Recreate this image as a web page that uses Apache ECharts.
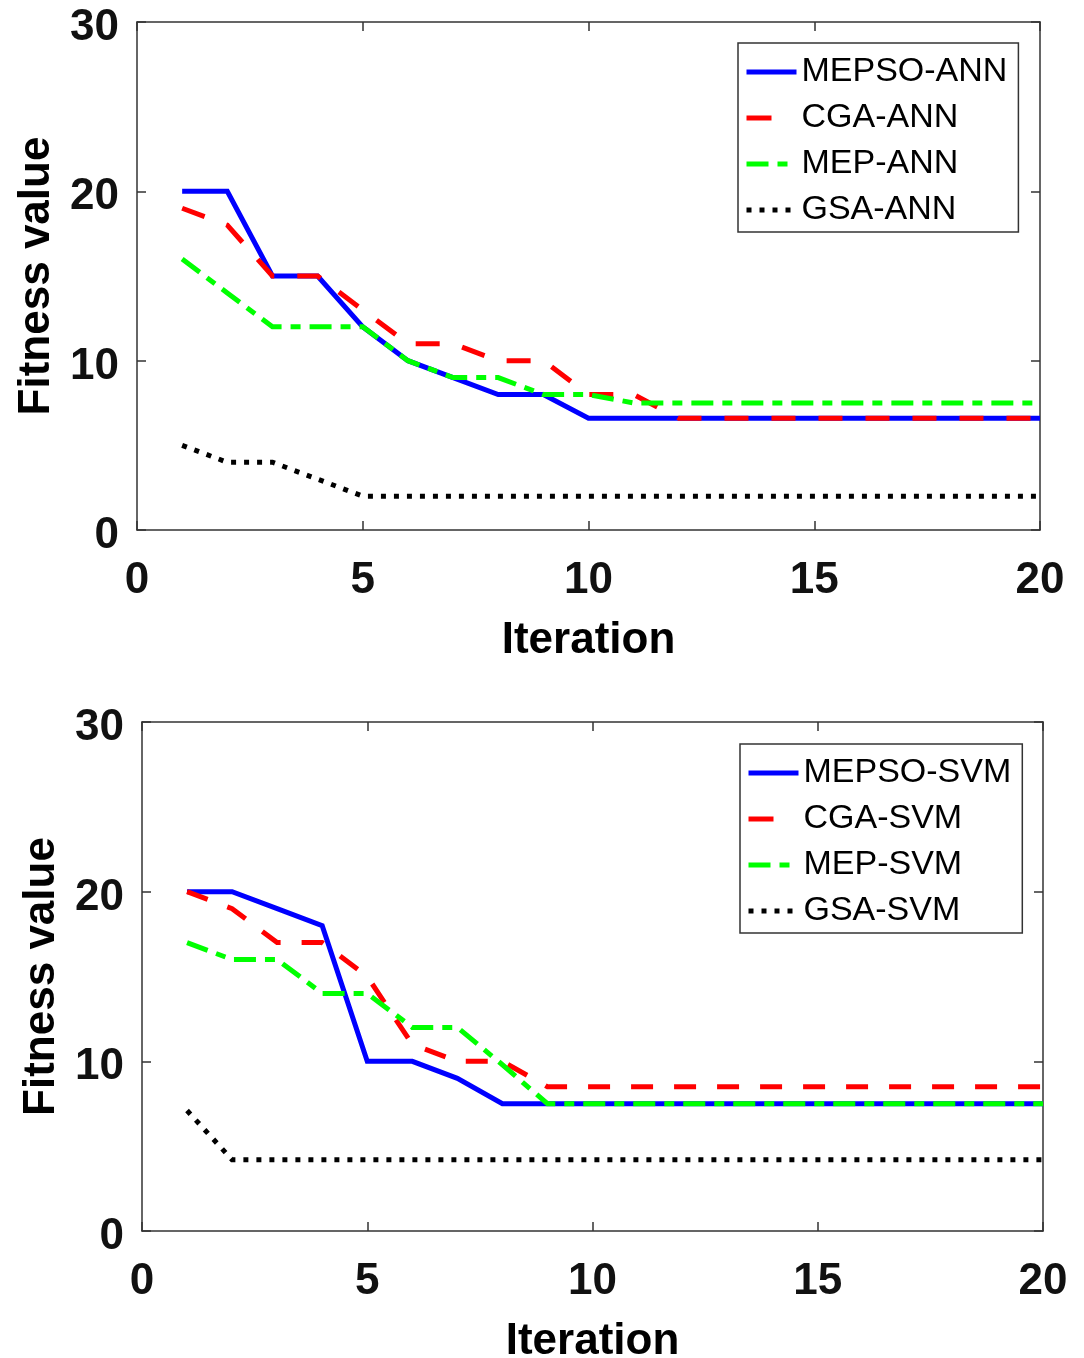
<!DOCTYPE html>
<html>
<head>
<meta charset="utf-8">
<script src="https://cdn.jsdelivr.net/npm/echarts@6/dist/echarts.min.js"></script>
<style>html,body{margin:0;padding:0;background:#fff}#c{width:1084px;height:1358px}</style>
</head>
<body>
<div id="c"></div>
<script>
// ---- data ----
const iterations = [1,2,3,4,5,6,7,8,9,10,11,12,13,14,15,16,17,18,19,20];
const xTicks = [0,5,10,15,20];
const yTicks = [0,10,20,30];

const annNames = ['MEPSO-ANN','CGA-ANN','MEP-ANN','GSA-ANN'];
const mepsoAnn = [20,20,15,15,12,10,9,8,8,6.6,6.6,6.6,6.6,6.6,6.6,6.6,6.6,6.6,6.6,6.6];
const cgaAnn   = [19,18,15,15,13,11,11,10,10,8,8,6.6,6.6,6.6,6.6,6.6,6.6,6.6,6.6,6.6];
const mepAnn   = [16,14,12,12,12,10,9,9,8,8,7.5,7.5,7.5,7.5,7.5,7.5,7.5,7.5,7.5,7.5];
const gsaAnn   = [5,4,4,3,2,2,2,2,2,2,2,2,2,2,2,2,2,2,2,2];

const svmNames = ['MEPSO-SVM','CGA-SVM','MEP-SVM','GSA-SVM'];
const mepsoSvm = [20,20,19,18,10,10,9,7.5,7.5,7.5,7.5,7.5,7.5,7.5,7.5,7.5,7.5,7.5,7.5,7.5];
const cgaSvm   = [20,19,17,17,15,11,10,10,8.5,8.5,8.5,8.5,8.5,8.5,8.5,8.5,8.5,8.5,8.5,8.5];
const mepSvm   = [17,16,16,14,14,12,12,9.8,7.5,7.5,7.5,7.5,7.5,7.5,7.5,7.5,7.5,7.5,7.5,7.5];
const gsaSvm   = [7.1,4.2,4.2,4.2,4.2,4.2,4.2,4.2,4.2,4.2,4.2,4.2,4.2,4.2,4.2,4.2,4.2,4.2,4.2,4.2];

// ---- styles ----
const FONT = 'Liberation Sans, Arial, sans-serif';
const AX = '#333';
const styles = [
  {color:'#0000ff', type:'solid'},
  {color:'#ff0000', type:[24,23]},
  {color:'#00ff00', type:[22,9,10,9]},
  {color:'#000000', type:[5,8]}
];

function pairs(arr){ return iterations.map((x,i)=>[x,arr[i]]); }

function xAxes(gi){
  const base = {
    gridIndex: gi, type:'value', min:0, max:20, interval:5,
    axisLine:{show:true, onZero:false, lineStyle:{color:AX, width:1.5}},
    axisTick:{show:true, inside:true, length:9, lineStyle:{color:AX, width:1.5}},
    splitLine:{show:false}
  };
  return [
    Object.assign({}, base, {position:'bottom',
      axisLabel:{show:true, margin:29, fontSize:44, fontWeight:'bold', color:'#111', fontFamily:FONT,
                 formatter: v => xTicks.includes(v) ? String(v) : ''},
      name:'Iteration', nameLocation:'middle', nameGap:89,
      nameTextStyle:{fontSize:44, fontWeight:'bold', color:'#000', fontFamily:FONT}}),
    Object.assign({}, base, {position:'top', axisLabel:{show:false}})
  ];
}
function yAxes(gi){
  const base = {
    gridIndex: gi, type:'value', min:0, max:30, interval:10,
    axisLine:{show:true, onZero:false, lineStyle:{color:AX, width:1.5}},
    axisTick:{show:true, inside:true, length:9, lineStyle:{color:AX, width:1.5}},
    splitLine:{show:false}
  };
  return [
    Object.assign({}, base, {position:'left',
      axisLabel:{show:true, margin:18, fontSize:44, fontWeight:'bold', color:'#111', fontFamily:FONT,
                 verticalAlign:'top', lineHeight:12,
                 formatter: v => yTicks.includes(v) ? String(v) : ''},
      name:'Fitness value', nameLocation:'middle', nameGap:67, nameRotate:90,
      nameTextStyle:{fontSize:44, fontWeight:'bold', color:'#000', fontFamily:FONT}}),
    Object.assign({}, base, {position:'right', axisLabel:{show:false}})
  ];
}

function mkSeries(names, arrays, gi){
  return names.map((n,i)=>({
    name:n, type:'line', xAxisIndex: gi*2, yAxisIndex: gi*2,
    data: pairs(arrays[i]), symbol:'none', smooth:false, z: 2+i,
    lineStyle:{color:styles[i].color, width:5, type:styles[i].type, cap:'butt', join:'miter'},
    itemStyle:{color:styles[i].color}
  }));
}

const series = mkSeries(annNames,[mepsoAnn,cgaAnn,mepAnn,gsaAnn],0)
  .concat(mkSeries(svmNames,[mepsoSvm,cgaSvm,mepSvm,gsaSvm],1));
series[5].lineStyle.type = [22,21];

function legend(names, left, top){
  return {
    data: names.map((n,i)=> i===1 ? {name:n, lineStyle:{type:[25,40]}} : {name:n}),
    orient:'vertical', left:left, top:top,
    itemWidth:50, itemHeight:10, itemGap:12,
    padding:[12,11,5,6],
    borderColor:'#333', borderWidth:1.5, backgroundColor:'#fff',
    textStyle:{fontSize:34, color:'#000', fontFamily:FONT, lineHeight:33},
    itemStyle:{opacity:0, borderWidth:0},
    lineStyle:{width:5, type:'inherit', cap:'butt'}
  };
}

const option = {
  animation:false,
  backgroundColor:'#fff',
  grid:[
    {left:137, top:22, width:903, height:508, outerBoundsMode:'none', containLabel:false},
    {left:142, top:722, width:901, height:509, outerBoundsMode:'none', containLabel:false}
  ],
  xAxis: xAxes(0).concat(xAxes(1)),
  yAxis: yAxes(0).concat(yAxes(1)),
  legend:[legend(annNames, 738, 43), legend(svmNames, 740, 744)],
  series: series
};

const chart = echarts.init(document.getElementById('c'), null, {renderer:'canvas'});
chart.setOption(option);
</script>
</body>
</html>
